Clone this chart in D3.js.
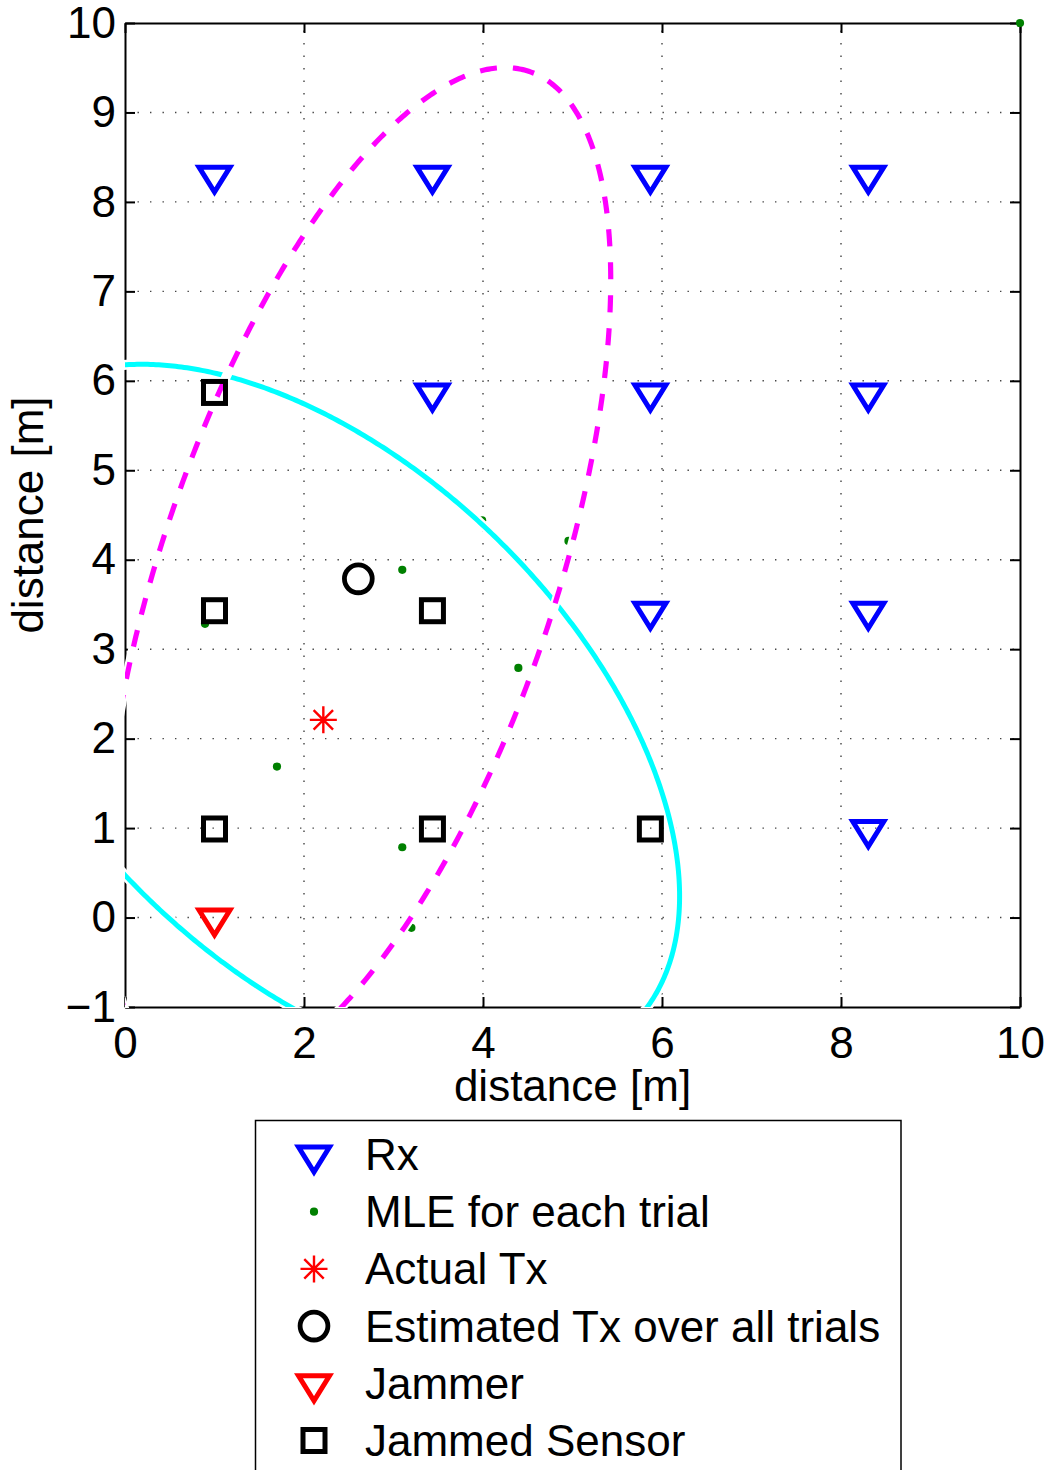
<!DOCTYPE html>
<html><head><meta charset="utf-8">
<script src="https://cdn.jsdelivr.net/npm/d3@7"></script>
<style>
body{margin:0;background:#fff}
svg{display:block}
text{font-family:"Liberation Sans",Arial,Helvetica,sans-serif;fill:#000}
</style>
</head><body>
<svg id="c" width="1050" height="1470"></svg>
<script>
// ---------------- data ----------------
const xTicks = [0, 2, 4, 6, 8, 10];
const yTicks = [-1, 0, 1, 2, 3, 4, 5, 6, 7, 8, 9, 10];
const xLabel = "distance [m]";
const yLabel = "distance [m]";

// receivers (blue down-triangles)
const rxX = [1, 3.435, 5.87, 8.305, 3.435, 5.87, 8.305, 5.87, 8.305, 8.305];
const rxY = [8.305, 8.305, 8.305, 8.305, 5.87, 5.87, 5.87, 3.43, 3.43, 0.99];
// jammed sensors (black squares)
const jamX = [1, 1, 3.435, 1, 3.435, 5.87];
const jamY = [5.87, 3.43, 3.43, 0.99, 0.99, 0.99];
// jammer (red down-triangle)
const jammerX = [1];
const jammerY = [0];
// MLE for each trial (green dots)
const mleX = [10, 3.098, 0.894, 4.395, 1.698, 3.098, 3.20, 4.955, 3.99];
const mleY = [10, 3.887, 3.283, 2.79, 1.688, 0.786, -0.115, 4.21, 4.44];
// actual Tx (red asterisk), estimated Tx (black circle)
const actualX = [2.216], actualY = [2.21];
const estX = [2.607], estY = [3.786];
// ellipses: [centerX, centerY, semiMajor, semiMinor, angleDeg]
const cyanEllipse = [2.20, 2.23, 4.875, 2.801, -44.4];
const magentaEllipse = [2.60, 3.82, 5.955, 2.193, 71.2];

const legendLabels = ["Rx", "MLE for each trial", "Actual Tx",
  "Estimated Tx over all trials", "Jammer", "Jammed Sensor"];

// ---------------- layout ----------------
const W = 1050, H = 1470;
const L = 125, R = 1020, T = 23, B = 1007;
const x = d3.scaleLinear().domain([0, 10]).range([L, R]);
const y = d3.scaleLinear().domain([-1, 10]).range([B, T]);
const FS = 44;

const svg = d3.select("#c");
svg.append("rect").attr("width", W).attr("height", H).attr("fill", "#fff");
const defs = svg.append("defs");
defs.append("clipPath").attr("id", "plot")
  .append("rect").attr("x", L).attr("y", T).attr("width", R - L).attr("height", B - T);
const haloClip = defs.append("clipPath").attr("id", "plotHalo");
haloClip.append("rect").attr("x", L).attr("y", T - 1).attr("width", R - L + 1).attr("height", B - T + 2);
haloClip.append("rect").attr("x", L - 1.2).attr("y", T + 20).attr("width", 2).attr("height", B - T - 50);

// grid
const grid = svg.append("g").attr("stroke", "#444").attr("stroke-width", 1.4)
  .attr("stroke-dasharray", "1.4,11.1");
grid.selectAll(".gx").data(xTicks.filter(v => v > 0 && v < 10)).enter().append("line")
  .attr("x1", d => x(d)).attr("x2", d => x(d)).attr("y1", B).attr("y2", T);
grid.selectAll(".gy").data(yTicks.filter(v => v > -1 && v < 10)).enter().append("line")
  .attr("x1", L).attr("x2", R).attr("y1", d => y(d)).attr("y2", d => y(d));

// axes
function styleAxis(g) {
  g.selectAll("path.domain").attr("stroke", "#000").attr("stroke-width", 2);
  g.selectAll(".tick line").attr("stroke", "#000").attr("stroke-width", 2);
  g.selectAll(".tick text").attr("font-size", FS).attr("font-family", "Liberation Sans, Arial, sans-serif").attr("fill", "#000");
}
const axB = svg.append("g").attr("transform", `translate(0,${B})`)
  .call(d3.axisBottom(x).tickValues(xTicks).tickSize(-10).tickSizeOuter(0).tickPadding(20).tickFormat(d3.format("d")));
styleAxis(axB);
const axLft = svg.append("g").attr("transform", `translate(${L},0)`)
  .call(d3.axisLeft(y).tickValues(yTicks).tickSize(-10).tickSizeOuter(0).tickPadding(9).tickFormat(d3.format("d")));
styleAxis(axLft);
const axT = svg.append("g").attr("transform", `translate(0,${T})`)
  .call(d3.axisTop(x).tickValues(xTicks).tickSize(-10).tickSizeOuter(0).tickFormat(""));
styleAxis(axT);
const axR = svg.append("g").attr("transform", `translate(${R},0)`)
  .call(d3.axisRight(y).tickValues(yTicks).tickSize(-10).tickSizeOuter(0).tickFormat(""));
styleAxis(axR);

// axis labels
svg.append("text").attr("x", (L + R) / 2).attr("y", 1101).attr("text-anchor", "middle")
  .attr("font-size", FS).text(xLabel);
svg.append("text").attr("transform", `translate(43,${(T + B) / 2}) rotate(-90)`)
  .attr("text-anchor", "middle").attr("font-size", FS).text(yLabel);

// marker helpers
function tri(g, cx, cy, color) {
  g.append("path").attr("transform", `translate(${cx},${cy})`)
    .attr("d", "M-15.5,-7.5L15.5,-7.5L0,17.5Z")
    .attr("fill", "none").attr("stroke", color).attr("stroke-width", 5).attr("stroke-linejoin", "miter");
}
function sq(g, cx, cy) {
  g.append("rect").attr("x", cx - 11).attr("y", cy - 11).attr("width", 22).attr("height", 22)
    .attr("fill", "none").attr("stroke", "#000").attr("stroke-width", 5);
}
function dot(g, cx, cy) {
  g.append("circle").attr("cx", cx).attr("cy", cy).attr("r", 4.1).attr("fill", "#008000");
}
function star(g, cx, cy) {
  const r = 13.5, d = r * 0.72;
  g.append("path").attr("transform", `translate(${cx},${cy})`)
    .attr("d", `M${-r},0L${r},0M0,${-r}L0,${r}M${-d},${-d}L${d},${d}M${-d},${d}L${d},${-d}`)
    .attr("stroke", "#f00").attr("stroke-width", 2.4).attr("fill", "none");
}
function circ(g, cx, cy) {
  g.append("circle").attr("cx", cx).attr("cy", cy).attr("r", 13.9)
    .attr("fill", "none").attr("stroke", "#000").attr("stroke-width", 4.8);
}

// MLE dots
const dotsG = svg.append("g");
mleX.forEach((v, i) => dot(dotsG, x(v), y(mleY[i])));

// ellipses
function ellipsePts(e) {
  const [cx, cy, a, b, ang] = e;
  const th = ang * Math.PI / 180;
  return d3.range(0, 721).map(i => {
    const t = i / 720 * 2 * Math.PI;
    const u = a * Math.cos(t), v = b * Math.sin(t);
    return [cx + u * Math.cos(th) - v * Math.sin(th), cy + u * Math.sin(th) + v * Math.cos(th)];
  });
}
const line = d3.line().x(d => x(d[0])).y(d => y(d[1]));
const cyanPts = ellipsePts(cyanEllipse), magPts = ellipsePts(magentaEllipse);

svg.append("path").attr("clip-path", "url(#plotHalo)").attr("d", line(cyanPts))
  .attr("fill", "none").attr("stroke", "#fff").attr("stroke-width", 10);
svg.append("path").attr("clip-path", "url(#plot)").attr("d", line(cyanPts))
  .attr("fill", "none").attr("stroke", "#00ffff").attr("stroke-width", 5);
svg.append("path").attr("clip-path", "url(#plotHalo)").attr("d", line(magPts))
  .attr("fill", "none").attr("stroke", "#fff").attr("stroke-width", 9.5);
svg.append("path").attr("clip-path", "url(#plot)").attr("d", line(magPts))
  .attr("fill", "none").attr("stroke", "#ff00ff").attr("stroke-width", 5.2)
  .attr("stroke-dasharray", "17,16");

// markers
const mk = svg.append("g");
rxX.forEach((v, i) => tri(mk, x(v), y(rxY[i]), "#0000ff"));
jammerX.forEach((v, i) => tri(mk, x(v), y(jammerY[i]), "#ff0000"));
jamX.forEach((v, i) => sq(mk, x(v), y(jamY[i])));
actualX.forEach((v, i) => star(mk, x(v), y(actualY[i])));
estX.forEach((v, i) => circ(mk, x(v), y(estY[i])));

// legend
const lg = svg.append("g");
lg.append("rect").attr("x", 255.5).attr("y", 1120.5).attr("width", 645.5).attr("height", 370)
  .attr("fill", "#fff").attr("stroke", "#000").attr("stroke-width", 1.5);
const rowY = i => 1154.5 + 57.2 * i;
const mx = 314;
tri(lg, mx, rowY(0), "#0000ff");
dot(lg, mx, rowY(1));
star(lg, mx, rowY(2));
circ(lg, mx, rowY(3));
tri(lg, mx, rowY(4), "#ff0000");
sq(lg, mx, rowY(5));
legendLabels.forEach((t, i) => {
  lg.append("text").attr("x", 365).attr("y", 1170 + 57.2 * i).attr("font-size", FS).text(t);
});
</script>
</body></html>
